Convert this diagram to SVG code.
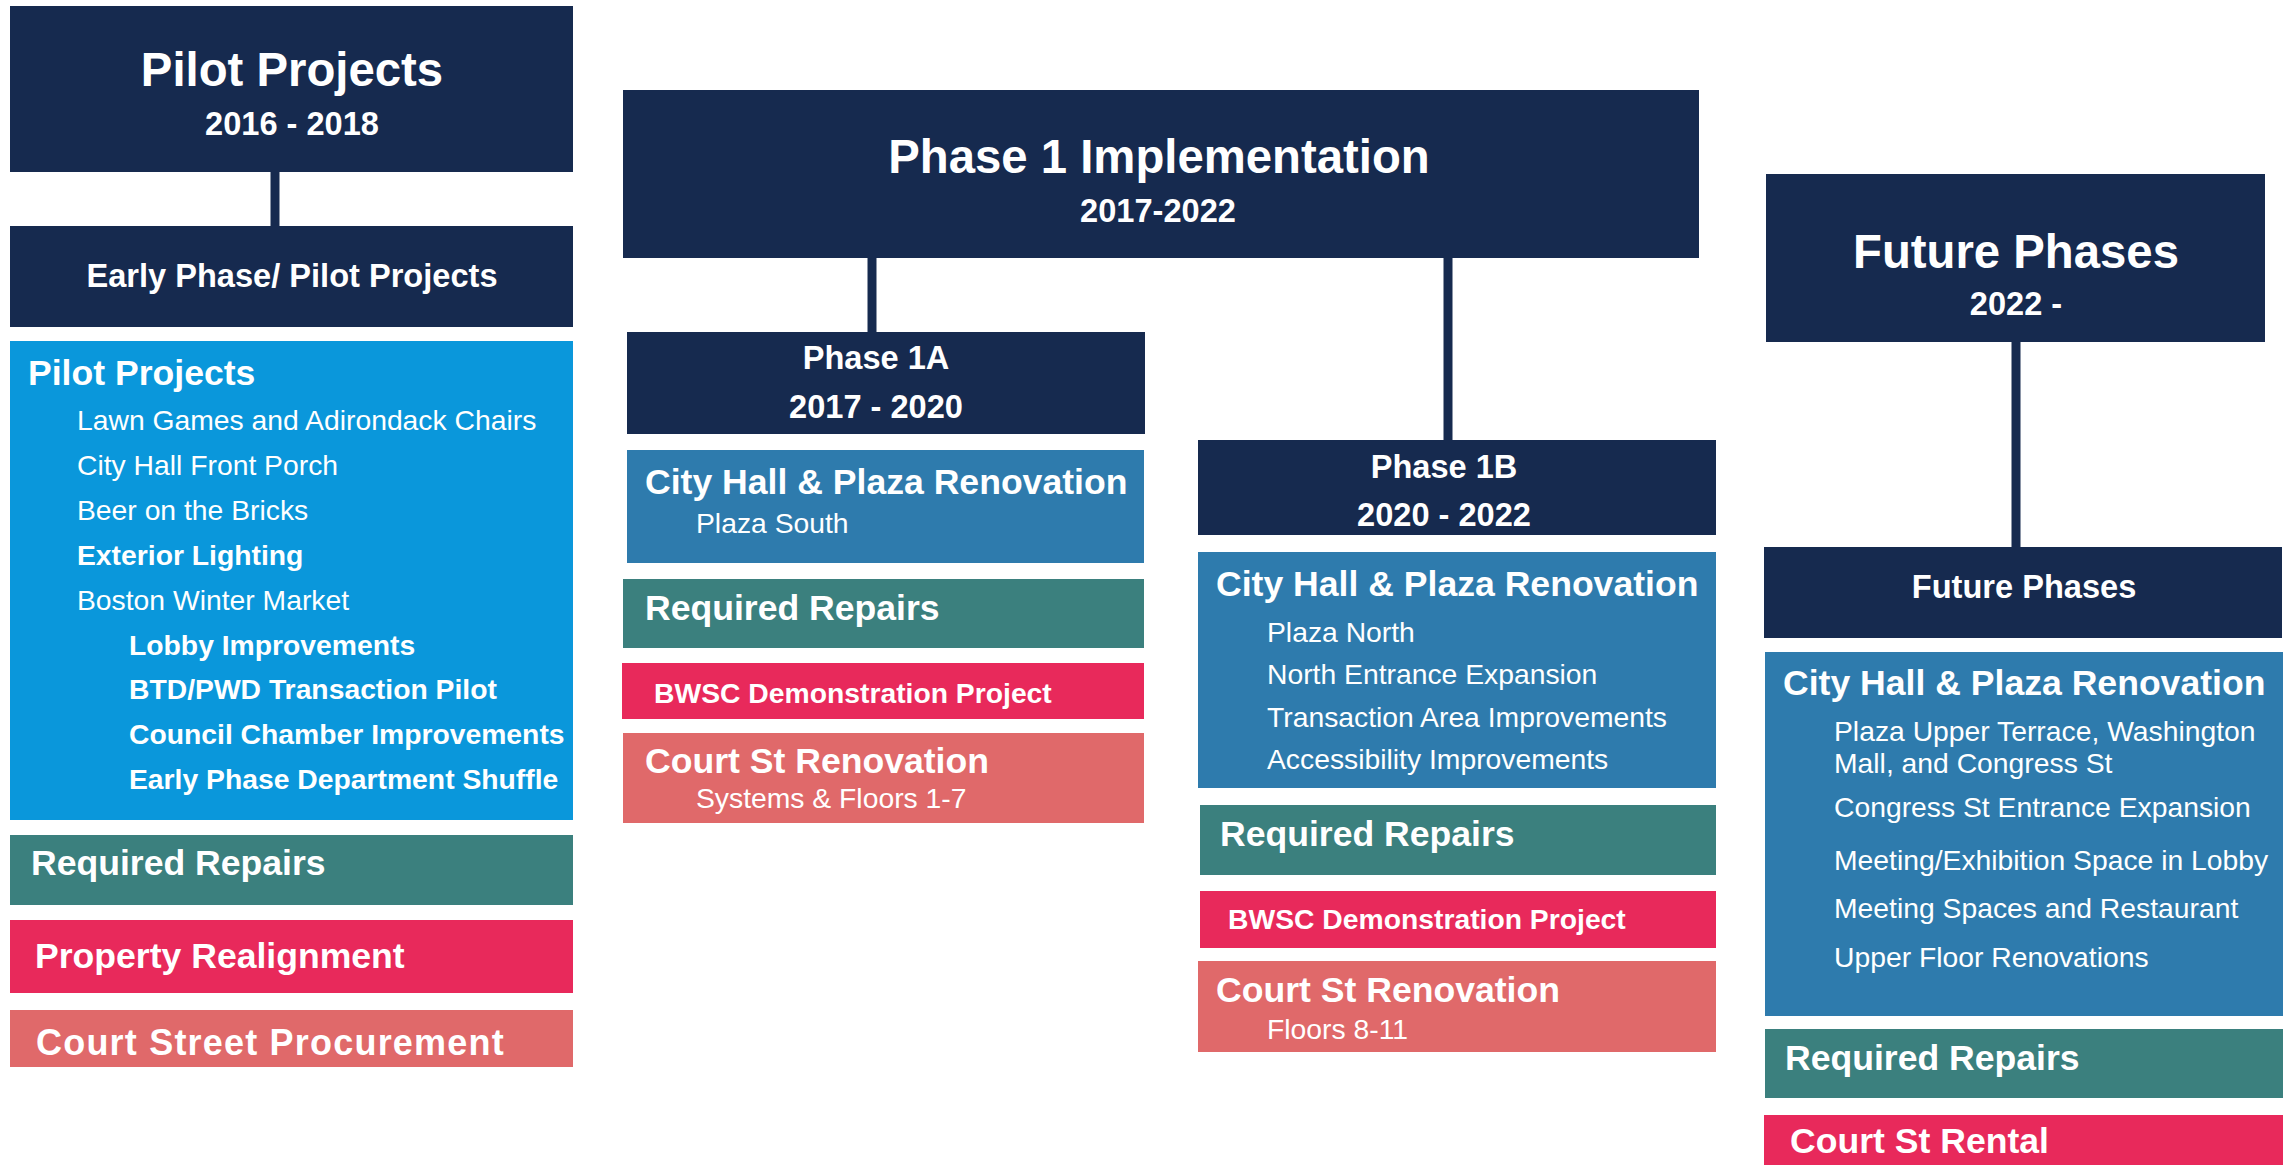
<svg xmlns="http://www.w3.org/2000/svg" width="2287" height="1165" viewBox="0 0 2287 1165">
<style>
.nv{fill:#162A4F}
.lb{fill:#0A97DB}
.mb{fill:#2E7BAD}
.tl{fill:#3B807E}
.pk{fill:#E8295B}
.sa{fill:#E0696A}
text{font-family:"Liberation Sans",Arial,sans-serif;fill:#fff}
.c{text-anchor:middle}
.h1{font-size:47.3px;font-weight:bold}
.h2{font-size:32.6px;font-weight:bold}
.t{font-size:35.6px;font-weight:bold}
.i{font-size:28.3px}
.ib{font-size:28.3px;font-weight:bold}
.conn{stroke:#162A4F;stroke-width:9;fill:none}
</style>
<rect width="2287" height="1165" fill="#fff"/>
<g id="connectors">
<line class="conn" x1="275" y1="170" x2="275" y2="228"/>
<line class="conn" x1="872" y1="256" x2="872" y2="334"/>
<line class="conn" x1="1448" y1="256" x2="1448" y2="442"/>
<line class="conn" x1="2016" y1="340" x2="2016" y2="549"/>
</g>
<g id="pilot-header"><rect class="nv" x="10" y="6" width="563" height="166"/>
<text class="h1 c" x="292" y="86">Pilot Projects</text>
<text class="h2 c" x="292" y="135">2016 - 2018</text></g>
<g id="early-phase"><rect class="nv" x="10" y="226" width="563" height="101"/>
<text class="h2 c" x="292" y="287">Early Phase/ Pilot Projects</text></g>
<g id="pilot-list"><rect class="lb" x="10" y="341" width="563" height="479"/>
<text class="t" x="28" y="385">Pilot Projects</text>
<text class="i" x="77" y="430">Lawn Games and Adirondack Chairs</text>
<text class="i" x="77" y="475">City Hall Front Porch</text>
<text class="i" x="77" y="520">Beer on the Bricks</text>
<text class="ib" x="77" y="565">Exterior Lighting</text>
<text class="i" x="77" y="610">Boston Winter Market</text>
<text class="ib" x="129" y="655">Lobby Improvements</text>
<text class="ib" x="129" y="699">BTD/PWD Transaction Pilot</text>
<text class="ib" x="129" y="744">Council Chamber Improvements</text>
<text class="ib" x="129" y="789">Early Phase Department Shuffle</text></g>
<g id="repairs-pilot"><rect class="tl" x="10" y="835" width="563" height="70"/>
<text class="t" x="31" y="875">Required Repairs</text></g>
<g id="property-realignment"><rect class="pk" x="10" y="920" width="563" height="73"/>
<text class="t" x="35" y="968">Property Realignment</text></g>
<g id="court-street-procurement"><rect class="sa" x="10" y="1010" width="563" height="57"/>
<text class="t" x="36" y="1055" style="font-size:36px;letter-spacing:1.2px">Court Street Procurement</text></g>

<g id="phase1"><rect class="nv" x="623" y="90" width="1076" height="168"/>
<text class="h1 c" x="1159" y="173">Phase 1 Implementation</text>
<text class="h2 c" x="1158" y="222">2017-2022</text></g>
<g id="phase1a"><rect class="nv" x="627" y="332" width="518" height="102"/>
<text class="h2 c" x="876" y="369">Phase 1A</text>
<text class="h2 c" x="876" y="418">2017 - 2020</text></g>
<g id="cityhall-1a"><rect class="mb" x="627" y="450" width="517" height="113"/>
<text class="t" x="645" y="494">City Hall &amp; Plaza Renovation</text>
<text class="i" x="696" y="533">Plaza South</text></g>
<g id="repairs-1a"><rect class="tl" x="623" y="579" width="521" height="69"/>
<text class="t" x="645" y="620">Required Repairs</text></g>
<g id="bwsc-1a"><rect class="pk" x="622" y="663" width="522" height="56"/>
<text class="ib" x="654" y="703">BWSC Demonstration Project</text></g>
<g id="court-1a"><rect class="sa" x="623" y="733" width="521" height="90"/>
<text class="t" x="645" y="773">Court St Renovation</text>
<text class="i" x="696" y="808">Systems &amp; Floors 1-7</text></g>

<g id="phase1b"><rect class="nv" x="1198" y="440" width="518" height="95"/>
<text class="h2 c" x="1444" y="478">Phase 1B</text>
<text class="h2 c" x="1444" y="526">2020 - 2022</text></g>
<g id="cityhall-1b"><rect class="mb" x="1198" y="552" width="518" height="236"/>
<text class="t" x="1216" y="596">City Hall &amp; Plaza Renovation</text>
<text class="i" x="1267" y="642">Plaza North</text>
<text class="i" x="1267" y="684">North Entrance Expansion</text>
<text class="i" x="1267" y="727">Transaction Area Improvements</text>
<text class="i" x="1267" y="769">Accessibility Improvements</text></g>
<g id="repairs-1b"><rect class="tl" x="1200" y="805" width="516" height="70"/>
<text class="t" x="1220" y="846">Required Repairs</text></g>
<g id="bwsc-1b"><rect class="pk" x="1200" y="891" width="516" height="57"/>
<text class="ib" x="1228" y="929">BWSC Demonstration Project</text></g>
<g id="court-1b"><rect class="sa" x="1198" y="961" width="518" height="91"/>
<text class="t" x="1216" y="1002">Court St Renovation</text>
<text class="i" x="1267" y="1039">Floors 8-11</text></g>

<g id="future"><rect class="nv" x="1766" y="174" width="499" height="168"/>
<text class="h1 c" x="2016" y="268">Future Phases</text>
<text class="h2 c" x="2016" y="315">2022 -</text></g>
<g id="future-sub"><rect class="nv" x="1764" y="547" width="518" height="91"/>
<text class="h2 c" x="2024" y="598">Future Phases</text></g>
<g id="cityhall-future"><rect class="mb" x="1765" y="652" width="518" height="364"/>
<text class="t" x="1783" y="695">City Hall &amp; Plaza Renovation</text>
<text class="i" x="1834" y="741">Plaza Upper Terrace, Washington</text>
<text class="i" x="1834" y="773">Mall, and Congress St</text>
<text class="i" x="1834" y="817">Congress St Entrance Expansion</text>
<text class="i" x="1834" y="870">Meeting/Exhibition Space in Lobby</text>
<text class="i" x="1834" y="918">Meeting Spaces and Restaurant</text>
<text class="i" x="1834" y="967">Upper Floor Renovations</text></g>
<g id="repairs-future"><rect class="tl" x="1765" y="1029" width="518" height="69"/>
<text class="t" x="1785" y="1070">Required Repairs</text></g>
<g id="court-rental"><rect class="pk" x="1764" y="1115" width="519" height="55"/>
<text class="t" x="1790" y="1153">Court St Rental</text></g>
</svg>
